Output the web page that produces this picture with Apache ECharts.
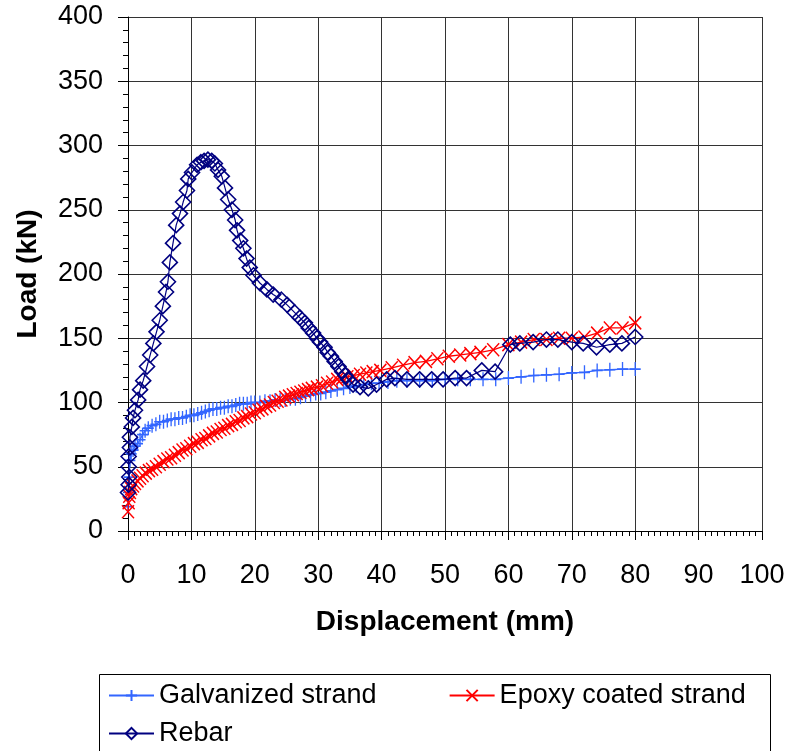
<!DOCTYPE html>
<html>
<head>
<meta charset="utf-8">
<script src="https://cdn.jsdelivr.net/npm/echarts@6/dist/echarts.min.js"></script>
<style>
html,body{margin:0;padding:0;background:#fff;}
#chart{width:788px;height:751px;}
</style>
</head>
<body>
<div id="chart"></div>
<script>
// ---- Data ----
var seriesNames = ['Galvanized strand', 'Epoxy coated strand', 'Rebar'];
var xTicks = [0,10,20,30,40,50,60,70,80,90,100];
var yTicks = [0,50,100,150,200,250,300,350,400];

var galvX = [0,0.1,0.2,0.3,0.5,0.8,1.1,1.5,1.9,2.3,2.7,3.2,3.8,4.4,5.0,5.6,6.2,6.8,7.4,8.0,8.6,9.2,9.8,10.4,11.0,11.6,12.2,12.8,13.4,14.0,14.6,15.2,15.8,16.4,17.0,17.6,18.2,18.8,19.4,20.0,20.8,21.6,22.4,23.2,24.0,24.8,25.6,26.4,27.2,28.0,28.8,29.6,30.4,31.2,32.0,33.0,34.0,35.0,36.0,37.2,38.4,39.6,41.0,42.4,44.0,46.0,48.0,50.0,52.0,54.0,56.0,58.0,60.0,62.0,64.0,66.0,68.0,70.0,72.0,74.0,76.0,78.0,80.0];
var galvY = [19,30,42,55,60,63,66,68,71,75,78,80,82,83,85,85,86,87,87,88,88,89,90,90,91,92,93,94,95,95,96,96,97,97,98,99,99,99,100,100,100,101,101,102,102,102,103,103,104,105,106,107,107,108,109,110,111,112,113,114,115,115,116,117,117,117,117,118,118,118,118,118,119,120,121,121.5,122,123,123.5,125,125.5,126,126];

var epoxX = [0,0.1,0.2,0.3,0.5,0.8,1.1,1.5,1.9,2.3,2.8,3.3,3.8,4.4,5.0,5.6,6.2,6.8,7.4,8.0,8.6,9.2,9.8,10.4,11.0,11.6,12.2,12.8,13.4,14.0,14.6,15.2,15.8,16.4,17.0,17.6,18.2,18.8,19.4,20.0,20.6,21.2,21.8,22.4,23.0,23.6,24.2,24.8,25.4,26.0,26.6,27.2,27.8,28.4,29.0,29.8,30.6,31.4,32.2,33.0,33.8,34.6,35.6,36.6,37.6,38.6,39.8,41.6,43.4,45.2,47.0,48.8,50.6,52.4,54.0,55.6,57.6,60.0,62.0,64.0,66.0,68.0,70.0,72.0,74.0,76.0,78.0,80.0];
var epoxY = [15,22,27,30,33,35,37,39,41,43,45,47,48,50,52,54,56,57,59,61,63,64,66,68,69,71,72,74,76,77,79,80,82,83,85,86,88,89,91,92,94,95,97,98,100,101,102,104,105,106,107,108,109,110,111,112,113,115,116,118,119,120,121,122,123,124,125,127,129,131,132,134,136,137,138,139,141,145,147,149,149,150,150,151,154,158,158,162];

var rebarX = [0,0.1,0.2,0.1,0.1,0.3,0.3,0.6,0.8,1.1,1.6,1.9,2.4,3.0,3.5,4.0,4.5,5.0,5.5,6.0,6.3,6.6,7.1,7.6,8.2,8.7,9.3,9.5,10.1,10.9,11.5,12.0,12.6,13.2,13.7,14.2,14.8,15.3,15.8,16.4,16.9,17.2,17.7,18.2,18.7,19.2,19.8,20.8,21.9,22.9,24.2,25.1,26.3,27.1,27.9,28.5,29.2,29.8,30.3,31.0,31.5,32.0,32.6,33.2,33.8,34.3,34.7,35.5,36.6,37.9,39.2,40.8,42.1,44.0,46.0,47.9,49.7,51.6,53.4,55.8,57.9,60.3,61.8,63.9,66.0,67.8,70.0,71.8,73.9,76.0,77.9,80.0];
var rebarY = [30,36,42,50,58,65,73,81,88,94,102,110,117,128,137,146,155,164,175,186,194,209,224,238,247,256,265,274,279,285,287,288,289,288,286,281,276,267,258,250,242,234,226,220,212,205,199,193,188,184,180,176,170,166,162,158,154,150,147,143,139,136,132,128,124,121,118,114,112,111,114,118,119,118,118,118,118,119,119,125,124,145,146,147,149,149,147,146,143,145,146,151];

function zip(xs, ys){ var out=[]; for (var i=0;i<xs.length;i++) out.push([xs[i], ys[i]]); return out; }

var FONT = '"Liberation Sans", Arial, sans-serif';
var BLUE = '#3366FF', RED = '#FF0000', NAVY = '#000080';

var chart = echarts.init(document.getElementById('chart'), null, {renderer:'canvas'});
var option = {
  animation: false,
  backgroundColor: '#fff',
  grid: {left:128, right:26, top:17, bottom:220, containLabel:false},
  xAxis: {
    type:'value', min:xTicks[0], max:xTicks[xTicks.length-1], interval:10,
    name:'Displacement (mm)', nameLocation:'middle', nameGap:77,
    nameTextStyle:{fontFamily:FONT, fontSize:28, fontWeight:'bold', color:'#000'},
    axisLine:{show:true, onZero:false, lineStyle:{color:'#000', width:1}},
    axisTick:{show:true, inside:false, length:9, lineStyle:{color:'#000'}},
    minorTick:{show:true, splitNumber:10, length:5, lineStyle:{color:'#000'}},
    axisLabel:{fontFamily:FONT, fontSize:27, color:'#000', margin:31},
    splitLine:{show:true, lineStyle:{color:'#333', width:1}}
  },
  yAxis: {
    type:'value', min:yTicks[0], max:yTicks[yTicks.length-1], interval:50,
    name:'Load (kN)', nameLocation:'middle', nameGap:86, nameRotate:90,
    nameTextStyle:{fontFamily:FONT, fontSize:28, fontWeight:'bold', color:'#000'},
    axisLine:{show:true, onZero:false, lineStyle:{color:'#000', width:1}},
    axisTick:{show:true, inside:false, length:10, lineStyle:{color:'#000'}},
    minorTick:{show:true, splitNumber:5, length:5, lineStyle:{color:'#000'}},
    axisLabel:{fontFamily:FONT, fontSize:27, color:'#000', margin:25},
    splitLine:{show:true, lineStyle:{color:'#333', width:1}}
  },
  legend: [
    {data:[seriesNames[0], seriesNames[1]], orient:'horizontal', left:103, top:677,
     itemWidth:45, itemHeight:14, itemGap:72,
     textStyle:{fontFamily:FONT, fontSize:27, color:'#000'}},
    {data:[seriesNames[2]], orient:'horizontal', left:103, top:715,
     itemWidth:45, itemHeight:14,
     textStyle:{fontFamily:FONT, fontSize:27, color:'#000'}}
  ],
  graphic: [{
    type:'rect', left:97, top:672, z:100, silent:true,
    shape:{width:671, height:100},
    style:{fill:'none', stroke:'#000', lineWidth:1}
  }],
  series: [
    {
      name: seriesNames[0], type:'line', data: zip(galvX, galvY),
      showAllSymbol:true, symbol:'path://M5,0L5,10M0,5L10,5', symbolSize:[11,14],
      lineStyle:{color:BLUE, width:1.3},
      itemStyle:{color:BLUE, borderColor:BLUE, borderWidth:1.5},
      emphasis:{disabled:true}, z:3
    },
    {
      name: seriesNames[1], type:'line', data: zip(epoxX, epoxY),
      showAllSymbol:true, symbol:'path://M0,0L10,10M10,0L0,10', symbolSize:[12,13],
      lineStyle:{color:RED, width:1.3},
      itemStyle:{color:RED, borderColor:RED, borderWidth:1.5},
      emphasis:{disabled:true}, z:4
    },
    {
      name: seriesNames[2], type:'line', data: zip(rebarX, rebarY),
      showAllSymbol:true, symbol:'diamond', symbolSize:15,
      lineStyle:{color:NAVY, width:1.2},
      itemStyle:{color:'rgba(255,255,255,0)', borderColor:NAVY, borderWidth:1.6},
      emphasis:{disabled:true}, z:5
    }
  ]
};
chart.setOption(option);
</script>
</body>
</html>
